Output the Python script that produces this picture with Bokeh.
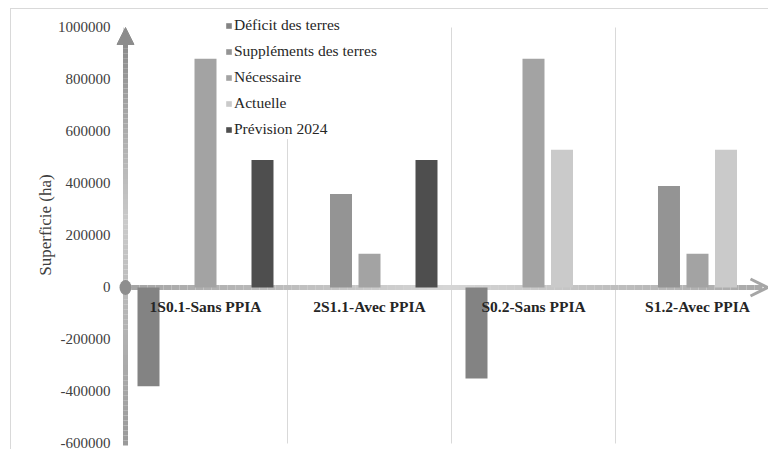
from bokeh.plotting import figure
from bokeh.models import (Range1d, FixedTicker, NumeralTickFormatter, Legend, LegendItem,
                          Arrow, NormalHead, OpenHead)
from bokeh.core.properties import value
from bokeh.embed import file_html
from bokeh.resources import INLINE

# ---- data -------------------------------------------------------------
categories = ["1S0.1-Sans PPIA", "2S1.1-Avec PPIA", "S0.2-Sans PPIA", "S1.2-Avec PPIA"]
series_names = ["Déficit des terres", "Suppléments des terres", "Nécessaire",
                "Actuelle", "Prévision 2024"]
deficit = [-380000, 0, -350000, 0]
supplements = [0, 360000, 0, 390000]
necessaire = [880000, 130000, 880000, 130000]
actuelle = [0, 0, 530000, 530000]
prevision = [490000, 490000, 0, 0]
y_ticks = [-600000, -400000, -200000, 0, 200000, 400000, 600000, 800000, 1000000]

series_values = [deficit, supplements, necessaire, actuelle, prevision]
series_colors = ["#838383", "#949494", "#a3a3a3", "#cacaca", "#4e4e4e"]

FONT = "Liberation Serif"
n_cat = len(categories)

p = figure(width=768, height=449, output_backend="svg", toolbar_location=None,
           x_range=Range1d(-0.0549, 3.933), y_range=Range1d(-623077, 1103846),
           x_axis_location=None, y_axis_location="left",
           min_border_left=114, min_border_right=0, min_border_top=0, min_border_bottom=0)
p.outline_line_color = None
p.grid.visible = False
p.background_fill_color = None
p.border_fill_color = None
# thin chart-area border along the left and top edges
p.styles = {
    "background-color": "white",
    "background-image": "linear-gradient(#d9d9d9, #d9d9d9), linear-gradient(#d9d9d9, #d9d9d9)",
    "background-size": "1px 100%, 100% 1px",
    "background-position": "10px 8px, 10px 8px",
    "background-repeat": "no-repeat",
}

# y axis: labels only, the arrow is drawn separately
ax = p.yaxis[0]
ax.ticker = FixedTicker(ticks=y_ticks)
ax.formatter = NumeralTickFormatter(format="0")
ax.axis_line_color = None
ax.major_tick_line_color = None
ax.minor_tick_line_color = None
ax.major_tick_out = 0
ax.minor_tick_out = 0
ax.major_tick_in = 0
ax.minor_tick_in = 0
ax.major_label_standoff = 4
ax.major_label_text_font = FONT
ax.major_label_text_font_size = "15px"
ax.major_label_text_color = "#404040"
ax.axis_label = "Superficie (ha)"
ax.axis_label_text_font = FONT
ax.axis_label_text_font_style = "normal"
ax.axis_label_text_font_size = "17px"
ax.axis_label_text_color = "#404040"
ax.axis_label_standoff = 0

# vertical separators between categories
bounds = list(range(n_cat + 1))
p.segment(x0=bounds, x1=bounds, y0=[y_ticks[0]] * len(bounds), y1=[y_ticks[-1]] * len(bounds),
          line_color="#d9d9d9", line_width=1)


def hex_to_rgb(h):
    return tuple(int(h[i:i + 2], 16) for i in (1, 3, 5))


def ramp(stops, t):
    for (t0, c0), (t1, c1) in zip(stops, stops[1:]):
        if t0 <= t <= t1:
            f = (t - t0) / (t1 - t0) if t1 > t0 else 0
            a, b = hex_to_rgb(c0), hex_to_rgb(c1)
            return "#%02x%02x%02x" % tuple(round(a[k] + (b[k] - a[k]) * f) for k in range(3))
    return stops[-1][1]


# x axis arrow (gradient shaft, round tail, open head)
px_x = 164.0          # pixels per category
x_lo, x_hi = 0.0, 3.933 - 6 / px_x
nseg = 80
xs = [x_lo + (x_hi - x_lo) * k / nseg for k in range(nseg + 1)]
x_stops = [(0.0, "#a4a4a4"), (0.5, "#d6d6d6"), (1.0, "#a8a8a8")]
p.segment(x0=xs[:-1], x1=xs[1:], y0=[0] * nseg, y1=[0] * nseg,
          line_color=[ramp(x_stops, k / nseg) for k in range(nseg)],
          line_width=5, line_cap="butt")
p.add_layout(Arrow(x_start=3.933 - 12 / px_x, y_start=0, x_end=3.933 - 1 / px_x, y_end=0,
                   line_alpha=0,
                   end=OpenHead(size=17, line_color="#a6a6a6", line_width=3)))

# y axis arrow
y_axis_x = 2 / px_x
y_lo, y_hi = -608000, 940000
ys = [y_lo + (y_hi - y_lo) * k / nseg for k in range(nseg + 1)]
y_stops = [(0.0, "#9a9a9a"), (0.3, "#b4b4b4"), (0.55, "#cacaca"), (0.75, "#b0b0b0"), (1.0, "#8a8a8a")]
p.segment(x0=[y_axis_x] * nseg, x1=[y_axis_x] * nseg, y0=ys[:-1], y1=ys[1:],
          line_color=[ramp(y_stops, k / nseg) for k in range(nseg)],
          line_width=5, line_cap="butt")
p.add_layout(Arrow(x_start=y_axis_x, y_start=900000, x_end=y_axis_x, y_end=y_ticks[-1],
                   line_alpha=0,
                   end=NormalHead(size=17, fill_color="#8c8c8c", line_color="#8c8c8c")))
p.ellipse(x=[y_axis_x], y=[0], width=12, height=15, width_units="screen",
          height_units="screen", fill_color="#8e8e8e", line_color=None)

# grouped bars
bar_step = 28.5 / px_x
bar_w = 22 / px_x
items = []
for i, (name, vals, col) in enumerate(zip(series_names, series_values, series_colors)):
    xpos = [k + 0.5 + (i - 2) * bar_step for k in range(n_cat)]
    r = p.vbar(x=xpos, top=vals, bottom=0, width=bar_w, fill_color=col, line_color=None)
    items.append(LegendItem(label=name, renderers=[r]))

# category names sitting under the axis line
p.text(x=[k + 0.5 for k in range(n_cat)], y=[0] * n_cat, text=categories,
       text_font=value(FONT), text_font_style="bold", text_font_size="15.5px",
       text_color="#262626", text_align="center", text_baseline="middle", y_offset=19)

legend = Legend(items=items, location=(111, 310), orientation="vertical",
                glyph_width=7, glyph_height=7, label_height=20, spacing=6,
                label_standoff=2, padding=3, margin=0,
                label_text_font=FONT, label_text_font_size="15.5px", label_text_color="#262626",
                border_line_color=None, background_fill_color="white", background_fill_alpha=1)
p.add_layout(legend)

open("out.html", "w").write(file_html(p, INLINE))
